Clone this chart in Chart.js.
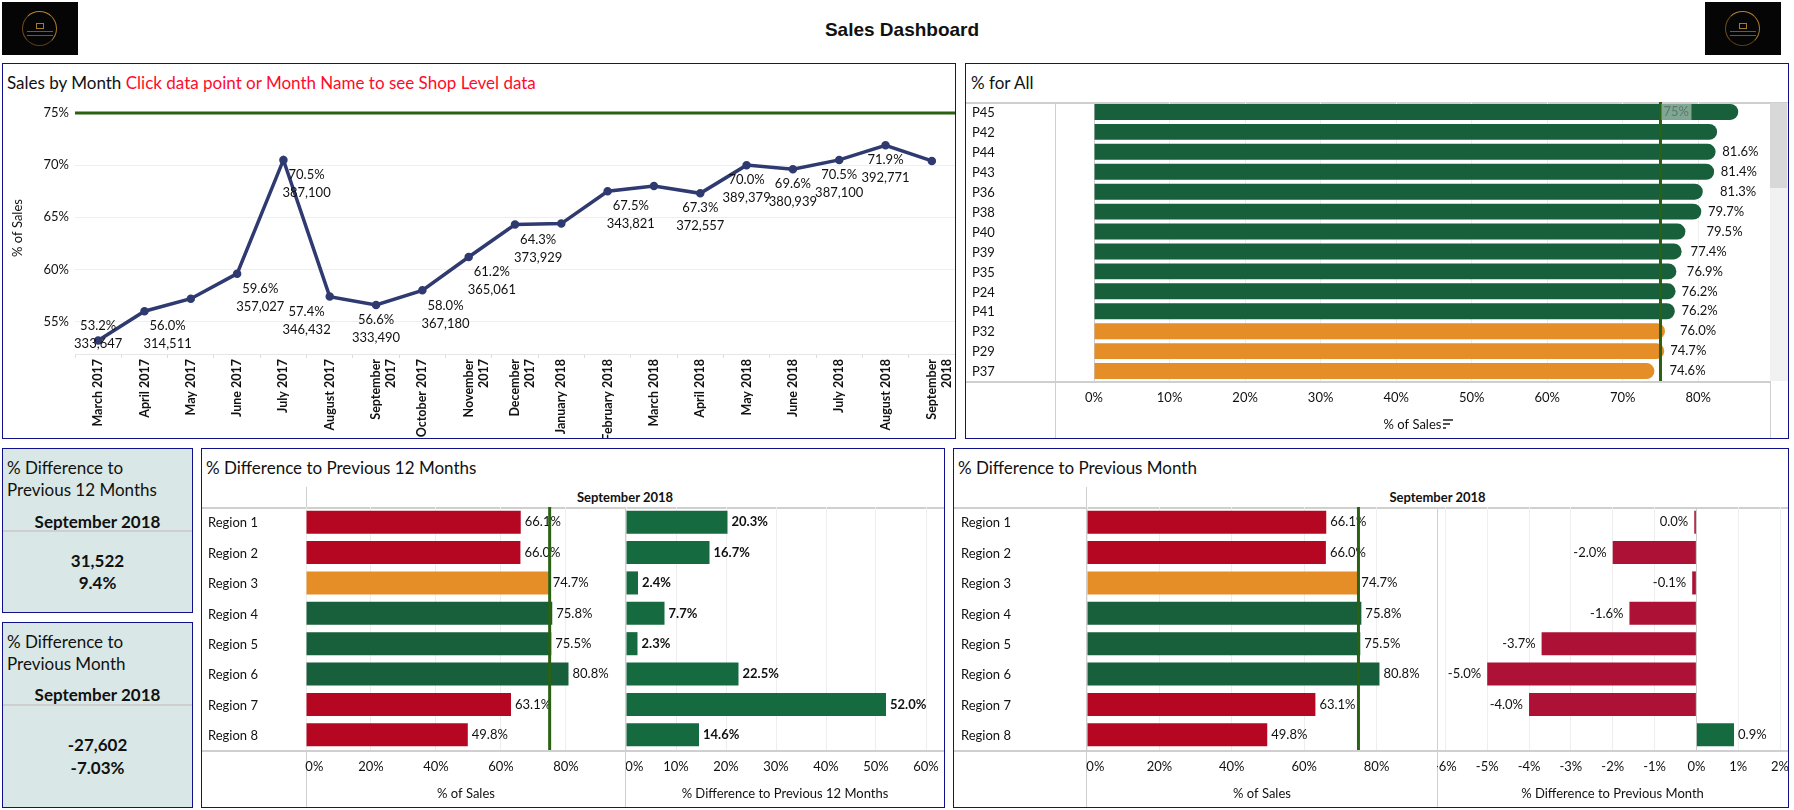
<!DOCTYPE html>
<html>
<head>
<meta charset="utf-8">
<title>Sales Dashboard</title>
<script src="https://cdn.jsdelivr.net/npm/chart.js@4/dist/chart.umd.min.js"></script>
<style>
html,body{margin:0;padding:0;background:#fff;}
body{position:relative;width:1794px;height:810px;overflow:hidden;font-family:Lato,sans-serif;color:#111;}
canvas{position:absolute;}
.panel{position:absolute;box-sizing:border-box;border:1.5px solid #10108a;background:#fff;}
.card{background:#d9e8e6;}
.txt{position:absolute;white-space:nowrap;line-height:20px;}
.head{font-size:17px;}
.bold{font-weight:700;}
.hline,.vline{position:absolute;background:#cfcfcf;}
.hline{height:1.5px;}
.vline{width:1px;}
.logo{position:absolute;top:2px;width:76px;height:53px;background:#050505;}
.logo i{position:absolute;left:20px;top:9px;width:33px;height:33px;border:1.5px solid;border-color:#b5832f #a87a2c #5a3d14 #6e4c1a;border-radius:50%;}
.logo b{position:absolute;left:34px;top:21px;width:6px;height:4px;border:1px solid #a87a2c;}
.logo u{position:absolute;left:25px;width:26px;height:1px;background:#6e5a30;}
</style>
</head>
<body>

<div class="logo" style="left:2px"><i></i><b></b><u style="top:29px"></u><u style="top:33px"></u></div>
<div class="logo" style="left:1705px"><i></i><b></b><u style="top:29px"></u><u style="top:33px"></u></div>
<div class="txt bold" style="left:0;width:1804px;text-align:center;top:19px;font:700 19px 'Liberation Sans'">Sales Dashboard</div>

<div class="panel" style="left:2px;top:63px;width:954px;height:376px"></div>
<div class="txt head" style="left:7px;top:73px">Sales by Month <span style="color:#ff0a2b">Click data point or Month Name to see Shop Level data</span></div>

<div class="panel" style="left:965px;top:63px;width:824px;height:376px"></div>
<div class="txt head" style="left:971px;top:73px">% for All</div>
<div class="hline" style="left:966px;width:822px;top:102px"></div>
<div class="hline" style="left:966px;width:804px;top:381px"></div>
<div class="vline" style="left:1055px;top:102px;height:336px"></div>
<div class="vline" style="left:1770px;top:102px;height:336px"></div>
<div style="position:absolute;left:1770px;top:103px;width:18px;height:278px;background:#f1f1f1"></div>
<div style="position:absolute;left:1770px;top:103px;width:17px;height:85px;background:#d8d8d8"></div>
<div style="position:absolute;left:1443px;top:419px;width:10px;height:2px;background:#555"></div>
<div style="position:absolute;left:1443px;top:423px;width:7px;height:2px;background:#555"></div>
<div style="position:absolute;left:1443px;top:427px;width:3px;height:2px;background:#555"></div>

<div class="panel card" style="left:2px;top:448px;width:191px;height:165px"></div>
<div class="txt head" style="left:7px;top:458px">% Difference to</div>
<div class="txt head" style="left:7px;top:480px">Previous 12 Months</div>
<div class="txt head bold" style="left:3px;width:189px;text-align:center;top:512px">September 2018</div>
<div class="hline" style="left:3px;width:189px;top:530px"></div>
<div class="txt head bold" style="left:3px;width:189px;text-align:center;top:551px">31,522</div>
<div class="txt head bold" style="left:3px;width:189px;text-align:center;top:573px">9.4%</div>

<div class="panel card" style="left:2px;top:622px;width:191px;height:186px"></div>
<div class="txt head" style="left:7px;top:632px">% Difference to</div>
<div class="txt head" style="left:7px;top:654px">Previous Month</div>
<div class="txt head bold" style="left:3px;width:189px;text-align:center;top:685px">September 2018</div>
<div class="hline" style="left:3px;width:189px;top:704px"></div>
<div class="txt head bold" style="left:3px;width:189px;text-align:center;top:735px">-27,602</div>
<div class="txt head bold" style="left:3px;width:189px;text-align:center;top:758px">-7.03%</div>

<div class="panel" style="left:201px;top:448px;width:744px;height:360px"></div>
<div class="txt head" style="left:206px;top:458px">% Difference to Previous 12 Months</div>
<div class="txt bold" style="left:306px;width:638px;text-align:center;top:487px;font-size:13px">September 2018</div>
<div class="hline" style="left:202px;width:742px;top:507px"></div>
<div class="hline" style="left:202px;width:742px;top:750px"></div>
<div class="vline" style="left:306px;top:487px;height:320px"></div>
<div class="vline" style="left:625px;top:507px;height:300px"></div>

<div class="panel" style="left:953px;top:448px;width:836px;height:360px"></div>
<div class="txt head" style="left:958px;top:458px">% Difference to Previous Month</div>
<div class="txt bold" style="left:1087px;width:701px;text-align:center;top:487px;font-size:13px">September 2018</div>
<div class="hline" style="left:954px;width:834px;top:507px"></div>
<div class="hline" style="left:954px;width:834px;top:750px"></div>
<div class="vline" style="left:1086px;top:487px;height:320px"></div>
<div class="vline" style="left:1437px;top:507px;height:300px"></div>

<canvas id="monthChart" width="952" height="343" style="left:3px;top:95px"></canvas>
<canvas id="shopChart" width="798" height="337" style="left:972px;top:102px"></canvas>
<canvas id="sales12Chart" width="418" height="301" style="left:208px;top:507px"></canvas>
<canvas id="diff12Chart" width="318" height="301" style="left:626px;top:507px"></canvas>
<canvas id="salesMonthChart" width="476" height="301" style="left:961px;top:507px"></canvas>
<canvas id="diffMonthChart" width="351" height="301" style="left:1437px;top:507px"></canvas>

<script>
// sales by month
const months = [["March 2017"],["April 2017"],["May 2017"],["June 2017"],["July 2017"],["August 2017"],["September","2017"],["October 2017"],["November","2017"],["December","2017"],["January 2018"],["February 2018"],["March 2018"],["April 2018"],["May 2018"],["June 2018"],["July 2018"],["August 2018"],["September","2018"]];
const salesPct = [53.2,56.0,57.2,59.6,70.5,57.4,56.6,58.0,61.2,64.3,64.4,67.5,68.0,67.3,70.0,69.6,70.5,71.9,70.4];
const salesAmount = [333647,314511,null,357027,387100,346432,333490,367180,365061,373929,null,343821,null,372557,389379,380939,387100,392771,null];
const pctTicks = [55,60,65,70,75];

// label placement on the month chart, in half bands and in px
const labelShift = [0,1,0,1,1,-1,0,1,1,1,0,1,0,0,0,0,0,0,0];
const labelDrop = [-15,15,15,15,15,15,15,15,15,15,15,15,15,15,15,15,15,15,15];

// % for all
const shops = ["P45","P42","P44","P43","P36","P38","P40","P39","P35","P24","P41","P32","P29","P37"];
const shopBars = [85.3,82.5,82.3,82.1,80.6,80.4,78.3,77.8,77.1,77.0,76.9,75.6,75.5,74.2];
const shopLabels = [null,null,81.6,81.4,81.3,79.7,79.5,77.4,76.9,76.2,76.2,76.0,74.7,74.6];
const shopTicks = [0,10,20,30,40,50,60,70,80];

// regions
const regions = ["Region 1","Region 2","Region 3","Region 4","Region 5","Region 6","Region 7","Region 8"];
const regionSales = [66.1,66.0,74.7,75.8,75.5,80.8,63.1,49.8];
const diff12Months = [20.3,16.7,2.4,7.7,2.3,22.5,52.0,14.6];
const diffMonthBars = [-0.05,-2.0,-0.1,-1.6,-3.7,-5.0,-4.0,0.9];
const diffMonthLabels = [0.0,-2.0,-0.1,-1.6,-3.7,-5.0,-4.0,0.9];
const salesTicks = [0,20,40,60,80];
const diff12Ticks = [0,10,20,30,40,50,60];
const diffMonthTicks = [-6,-5,-4,-3,-2,-1,0,1,2];

const targetPct = 75;

const GREEN = "#185f3b", ORANGE = "#e58d26", RED = "#b50722";
const DIFF_GREEN = "#166a40", DIFF_RED = "#ad1236";
const TARGET = "#2a6113", GRID = "#eeeeee", TEXT = "#111111";
const FONT = "Lato";

Chart.defaults.font.family = FONT;
Chart.defaults.font.size = 13;
Chart.defaults.color = TEXT;
Chart.defaults.animation = false;
Chart.defaults.responsive = false;
Chart.defaults.plugins.legend.display = false;
Chart.defaults.plugins.tooltip.enabled = false;

function pct(v){ return v + "%"; }

function targetLine(){
return {
id:"targetLine",
afterDatasetsDraw(chart){
let ctx = chart.ctx, a = chart.chartArea;
ctx.save();
ctx.strokeStyle = TARGET;
ctx.lineWidth = 3;
ctx.beginPath();
if(chart.options.indexAxis === "y"){
let x = chart.scales.x.getPixelForValue(targetPct);
ctx.moveTo(x,a.top);
ctx.lineTo(x,a.bottom);
}else{
let y = chart.scales.y.getPixelForValue(targetPct);
ctx.moveTo(a.left,y);
ctx.lineTo(a.right,y);
}
ctx.stroke();
ctx.restore();
}
};
}

// value labels at the end of horizontal bars
function barLabels(values,bars,gap,weight,negGap){
return {
id:"barLabels",
afterDatasetsDraw(chart){
let ctx = chart.ctx, x = chart.scales.x, y = chart.scales.y;
ctx.save();
ctx.fillStyle = TEXT;
ctx.font = weight + " 13px " + FONT;
ctx.textBaseline = "middle";
values.forEach((v,i)=>{
if(v === null) return;
let end = x.getPixelForValue(bars[i]);
if(bars[i] < 0){
ctx.textAlign = "right";
ctx.fillText(v.toFixed(1) + "%",end - negGap,y.getPixelForTick(i));
}else{
ctx.textAlign = "left";
ctx.fillText(v.toFixed(1) + "%",end + gap,y.getPixelForTick(i));
}
});
ctx.restore();
}
};
}

function fixX(height){
return s => { s.height = height; s.paddingLeft = 0; s.paddingRight = 0; };
}

function fixY(width){
return s => { s.width = width; s.paddingTop = 0; s.paddingBottom = 0; };
}

function setTicks(list){
return s => { s.ticks = list.map(v => ({value:v})); };
}

function barChart(id,cats,values,colors,opts){
return new Chart(document.getElementById(id),{
type:"bar",
data:{
labels:cats,
datasets:[{
data:values,
backgroundColor:colors,
barPercentage:opts.barPct,
categoryPercentage:1,
borderRadius:opts.radius || 0,
borderSkipped:opts.radius ? false : "start"
}]
},
options:{
indexAxis:"y",
layout:{autoPadding:false,padding:0},
scales:{
x:{
min:opts.min,
max:opts.max,
afterFit:fixX(opts.axisHeight),
afterBuildTicks:setTicks(opts.ticks),
grid:{color:c => c.tick && c.tick.value === 0 && opts.min < 0 ? "#cccccc" : GRID,drawTicks:false},
border:{display:false},
ticks:{
padding:9,
maxRotation:0,
autoSkip:false,
callback:v => (v === 0 && opts.pushZero ? "     " : "") + pct(v)
},
title:{display:true,text:opts.title,padding:{top:0,bottom:opts.titlePad}}
},
y:{
display:opts.yWidth > 0,
afterFit:fixY(opts.yWidth),
grid:{display:false},
border:{display:false},
ticks:{crossAlign:"far",padding:0,labelOffset:1}
}
}
},
plugins:opts.plugins
});
}

function salesColor(v){
if(v >= 75) return GREEN;
if(v >= 70) return ORANGE;
return RED;
}

function diffColor(v){
return v >= 0 ? DIFF_GREEN : DIFF_RED;
}

// month line
new Chart(document.getElementById("monthChart"),{
type:"line",
data:{
labels:months,
datasets:[{
data:salesPct,
borderColor:"#2f3a70",
backgroundColor:"#2f3a70",
borderWidth:3.5,
pointRadius:2.5,
tension:0
}]
},
options:{
layout:{autoPadding:false,padding:{top:7,right:0,bottom:0,left:7}},
scales:{
x:{
offset:true,
afterFit:fixX(84),
grid:{offset:true,drawOnChartArea:false,color:"#dddddd",tickLength:4},
border:{color:"#e6e6e6"},
ticks:{minRotation:90,maxRotation:90,autoSkip:false,padding:1,font:{size:12.5,weight:"bold"}}
},
y:{
min:51.9,
max:76.05,
afterFit:fixY(65),
afterBuildTicks:setTicks(pctTicks),
grid:{color:GRID,drawTicks:false},
border:{display:false},
ticks:{padding:6,callback:pct},
title:{display:true,text:"% of Sales",padding:{top:0,bottom:0}}
}
}
},
plugins:[targetLine(),{
id:"monthLabels",
afterDatasetsDraw(chart){
let ctx = chart.ctx, x = chart.scales.x, y = chart.scales.y;
let halfBand = (x.getPixelForTick(1) - x.getPixelForTick(0)) / 2;
ctx.save();
ctx.fillStyle = TEXT;
ctx.font = "13px " + FONT;
ctx.textAlign = "center";
ctx.textBaseline = "middle";
salesAmount.forEach((amount,i)=>{
if(amount === null) return;
let px = x.getPixelForTick(i) + labelShift[i] * halfBand;
let py = y.getPixelForValue(salesPct[i]) + labelDrop[i];
ctx.fillText(salesPct[i].toFixed(1) + "%",px,py);
ctx.fillText(amount.toLocaleString("en-US"),px,py + 18);
});
ctx.restore();
}
}]
});

// % for all
barChart("shopChart",shops,shopBars,shopBars.map(v => v >= 76 ? GREEN : ORANGE),{
barPct:0.8,
radius:{topLeft:0,bottomLeft:0,topRight:8,bottomRight:8},
min:-5.17,
max:89.5,
ticks:shopTicks,
axisHeight:58,
yWidth:83,
title:"% of Sales",
titlePad:6,
plugins:[barLabels(shopLabels,shopLabels,12,"normal",0),targetLine(),{
id:"targetTag",
afterDatasetsDraw(chart){
let ctx = chart.ctx, x = chart.scales.x, y = chart.scales.y;
let left = x.getPixelForValue(targetPct) + 1;
let mid = y.getPixelForTick(0);
ctx.save();
ctx.fillStyle = "rgba(255,255,255,0.45)";
ctx.fillRect(left,mid-8,30,16);
ctx.fillStyle = "#5c7a6a";
ctx.font = "13px " + FONT;
ctx.textAlign = "left";
ctx.textBaseline = "middle";
ctx.fillText(targetPct + "%",left+2,mid);
ctx.restore();
}
}]
});

// 12 months panel
barChart("sales12Chart",regions,regionSales,regionSales.map(salesColor),{
barPct:0.76,
min:0,
max:98.5,
ticks:salesTicks,
pushZero:true,
axisHeight:58,
yWidth:98,
title:"% of Sales",
titlePad:6,
plugins:[barLabels(regionSales,regionSales,4,"normal",0),targetLine()]
});

barChart("diff12Chart",regions,diff12Months,diff12Months.map(diffColor),{
barPct:0.76,
min:0,
max:63.6,
ticks:diff12Ticks,
pushZero:true,
axisHeight:58,
yWidth:0,
title:"% Difference to Previous 12 Months",
titlePad:6,
plugins:[barLabels(diff12Months,diff12Months,4,"bold",0)]
});

// previous month panel
barChart("salesMonthChart",regions,regionSales,regionSales.map(salesColor),{
barPct:0.76,
min:0,
max:96.7,
ticks:salesTicks,
pushZero:true,
axisHeight:58,
yWidth:126,
title:"% of Sales",
titlePad:6,
plugins:[barLabels(regionSales,regionSales,4,"normal",0),targetLine()]
});

barChart("diffMonthChart",regions,diffMonthBars,diffMonthBars.map(diffColor),{
barPct:0.76,
min:-6.2,
max:2.19,
ticks:diffMonthTicks,
axisHeight:58,
yWidth:0,
title:"% Difference to Previous Month",
titlePad:6,
plugins:[barLabels(diffMonthLabels,diffMonthBars,4,"normal",6)]
});
</script>
</body>
</html>
